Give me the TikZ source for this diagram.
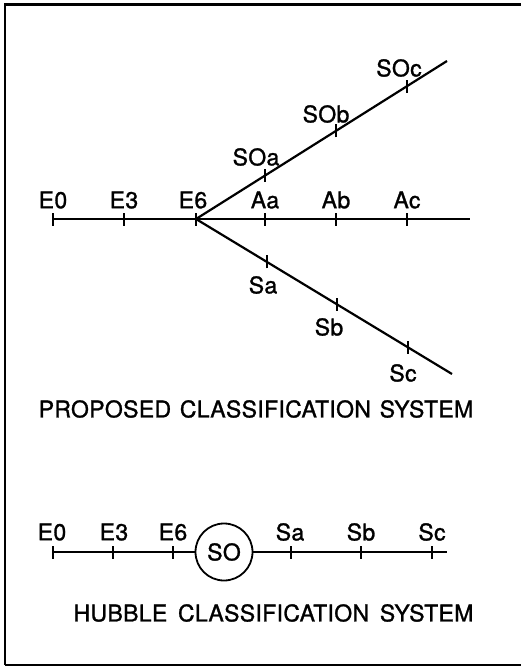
\documentclass[tikz,border=0pt]{standalone}
\usepackage{fontspec}
\setmainfont{TeX Gyre Heros}[LetterSpace=1.5,FakeBold=1.2]
\begin{document}
\begin{tikzpicture}[x=1pt,y=-1pt,
  ln/.style={line width=2.2pt},
  tk/.style={line width=2pt},
  lab/.style={font=\fontsize{23}{23}\selectfont, inner sep=0pt, anchor=center},
  ttl/.style={font=\fontsize{23}{23}\selectfont, inner sep=0pt, anchor=center},
  frm/.style={line width=2.8pt}]
\useasboundingbox (0,0) rectangle (521,669);
% frame
\coordinate (fbl) at (5,665);
\coordinate (ftl) at (5,4.5);
\coordinate (ftr) at (521,4.5);
\coordinate (fbr) at (521,665);
\draw[frm] (fbl) -- (ftl) -- (ftr);
\draw[frm] (fbl) -- (fbr);
% proposed system
\coordinate (pE0) at (53,219);
\coordinate (pE3) at (124,219);
\coordinate (pE6) at (196,219);
\coordinate (pAa) at (265,219);
\coordinate (pAb) at (336,219);
\coordinate (pAc) at (407,219);
\coordinate (pEnd) at (470,219);
\coordinate (uEnd) at (447,61);
\coordinate (dEnd) at (452,374);
\draw[ln] (pE0) -- (pEnd);
\draw[ln] (pE6) -- (uEnd);
\draw[ln] (pE6) -- (dEnd);
\path (pE6) -- (uEnd) coordinate[pos=0.2749] (pSOa) coordinate[pos=0.5578] (pSOb) coordinate[pos=0.8406] (pSOc);
\path (pE6) -- (dEnd) coordinate[pos=0.2773] (pSa) coordinate[pos=0.5508] (pSb) coordinate[pos=0.8281] (pSc);
\foreach \c in {pE0,pE3,pE6,pAa,pAb,pAc,pSOa,pSOb,pSOc,pSa,pSb,pSc}
  \draw[tk] ([yshift=-6.5pt]\c) -- ([yshift=6.5pt]\c);
\node[lab] (lE0) at (53,200) {E0};
\node[lab] (lE3) at (124,200) {E3};
\node[lab] (lE6) at (193,200) {E6};
\node[lab] (lAa) at (265,200) {Aa};
\node[lab] (lAb) at (336,200) {Ab};
\node[lab] (lAc) at (407,200) {Ac};
\node[lab] (lSOa) at (256,157) {SOa};
\node[lab] (lSOb) at (326,114) {SOb};
\node[lab] (lSOc) at (399,68) {SOc};
\node[lab] (lSa) at (263,285) {Sa};
\node[lab] (lSb) at (329,327) {Sb};
\node[lab] (lSc) at (403,373) {Sc};
\node[ttl] (tP) at (256,409) {PROPOSED\hspace{2pt} CLASSIFICATION\hspace{2pt} SYSTEM};
% hubble system
\coordinate (hE0) at (53,552);
\coordinate (hE3) at (113,552);
\coordinate (hE6) at (173,552);
\node[draw, circle, line width=1.8pt, minimum size=57pt, inner sep=0pt, font=\fontsize{23}{23}\selectfont] (hSO) at (224,552) {SO};
\coordinate (hSa) at (291,552);
\coordinate (hSb) at (361,552);
\coordinate (hSc) at (432,552);
\coordinate (hEnd) at (447,552);
\draw[ln] (hE0) -- (hSO);
\draw[ln] (hSO) -- (hEnd);
\foreach \c in {hE0,hE3,hE6,hSa,hSb,hSc}
  \draw[tk] ([yshift=-6.5pt]\c) -- ([yshift=6.5pt]\c);
\node[lab] (hlE0) at (52,532) {E0};
\node[lab] (hlE3) at (114,532) {E3};
\node[lab] (hlE6) at (173,532) {E6};
\node[lab] (hlSa) at (290,532) {Sa};
\node[lab] (hlSb) at (361,532) {Sb};
\node[lab] (hlSc) at (432,532) {Sc};
\node[ttl] (tH) at (273.5,613) {HUBBLE\hspace{4pt} CLASSIFICATION\hspace{4pt} SYSTEM};
\end{tikzpicture}
\end{document}
